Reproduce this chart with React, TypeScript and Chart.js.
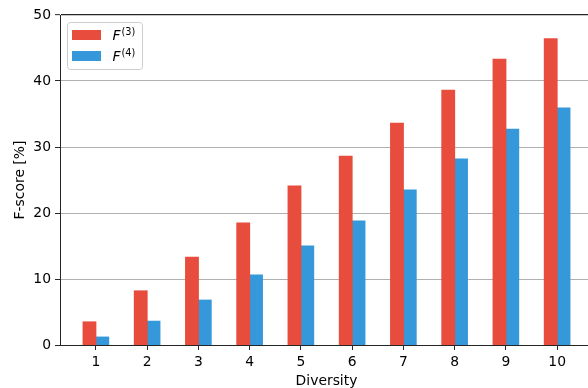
import React, { useEffect, useRef } from 'react';
import { Chart, registerables } from 'chart.js';

Chart.register(...registerables);

const diversity = [1, 2, 3, 4, 5, 6, 7, 8, 9, 10];
const f3 = [3.5, 8.2, 13.3, 18.5, 24.1, 28.6, 33.6, 38.6, 43.3, 46.4];
const f4 = [1.2, 3.6, 6.8, 10.6, 15.0, 18.8, 23.5, 28.2, 32.7, 35.9];
const yTicks = [0, 10, 20, 30, 40, 50];
const seriesBase = 'F';
const seriesSup = ['(3)', '(4)'];
const seriesColors = ['#e74c3c', '#3498db'];
const xTitle = 'Diversity';
const yTitle = 'F-score [%]';

const FAMILY = '"DejaVu Sans", sans-serif';
const FS = 13.9;
const SPINE = '#262626';

const legendPlugin = {
  id: 'mplLegend',
  afterDatasetsDraw(chart: any) {
    const { ctx, chartArea } = chart;
    const left = chartArea.left + 7.5;
    const top = chartArea.top + 7.5;
    const w = 75;
    const h = 47;
    ctx.save();
    ctx.beginPath();
    ctx.roundRect(left, top, w, h, 3);
    ctx.fillStyle = 'rgba(255,255,255,0.8)';
    ctx.fill();
    ctx.strokeStyle = '#cccccc';
    ctx.lineWidth = 1;
    ctx.stroke();
    chart.data.datasets.forEach((ds: any, i: number) => {
      const rowTop = top + 7.5 + i * 21;
      ctx.fillStyle = ds.backgroundColor;
      ctx.fillRect(left + 4.5, rowTop, 29, 10);
      const tx = left + 45;
      const base = rowTop + 9.5;
      ctx.fillStyle = '#000';
      ctx.textBaseline = 'alphabetic';
      ctx.textAlign = 'left';
      ctx.font = `italic ${FS}px ${FAMILY}`;
      ctx.fillText(seriesBase, tx, base);
      const fw = ctx.measureText(seriesBase).width;
      ctx.font = `${FS * 0.7}px ${FAMILY}`;
      ctx.fillText(seriesSup[i], tx + fw + 1, base - 5);
    });
    ctx.restore();
  },
};

export default function App() {
  const ref = useRef<HTMLCanvasElement | null>(null);

  useEffect(() => {
    document.body.style.margin = '0';
    document.documentElement.style.overflow = 'hidden';
    const canvas = ref.current;
    if (!canvas) return;
    const font = { family: FAMILY, size: FS };
    const chart = new Chart(canvas, {
      type: 'bar',
      data: {
        datasets: [
          {
            label: seriesBase + seriesSup[0],
            data: diversity.map((x, i) => ({ x, y: f3[i] })),
            backgroundColor: seriesColors[0],
            borderWidth: 0,
            inflateAmount: 0.5,
          },
          {
            label: seriesBase + seriesSup[1],
            data: diversity.map((x, i) => ({ x, y: f4[i] })),
            backgroundColor: seriesColors[1],
            borderWidth: 0,
            inflateAmount: 0.5,
          },
        ],
      },
      options: {
        responsive: false,
        animation: false,
        devicePixelRatio: 1,
        layout: { padding: { top: 15, left: 0, right: 0, bottom: 0 } },
        datasets: { bar: { categoryPercentage: 0.5, barPercentage: 1.0 } },
        plugins: { legend: { display: false }, tooltip: { enabled: false } },
        scales: {
          x: {
            type: 'linear',
            min: 0.3,
            max: 10.7,
            offset: false,
            afterBuildTicks: (s: any) => {
              s.ticks = diversity.map((v) => ({ value: v }));
            },
            afterFit: (s: any) => {
              s.height = 43;
            },
            grid: {
              display: true,
              drawOnChartArea: false,
              drawTicks: true,
              tickLength: 5,
              tickColor: SPINE,
              tickWidth: 1,
              offset: false,
            },
            border: { display: true, color: SPINE, width: 1 },
            ticks: {
              font,
              color: '#000',
              padding: 4,
              maxRotation: 0,
              autoSkip: false,
              callback: (v: any) => String(v),
            },
            title: {
              display: true,
              text: xTitle,
              font,
              color: '#000',
              padding: { top: 0, bottom: -2 },
            },
          },
          y: {
            type: 'linear',
            min: 0,
            max: 50,
            afterBuildTicks: (s: any) => {
              s.ticks = yTicks.map((v) => ({ value: v }));
            },
            afterFit: (s: any) => {
              s.width = 60;
            },
            grid: {
              color: (c: any) =>
                c.tick && c.tick.value === 50 ? SPINE : c.tick && c.tick.value === 0 ? 'rgba(0,0,0,0)' : '#b0b0b0',
              lineWidth: (c: any) => (c.tick && c.tick.value === 50 ? 1.3 : 1),
              drawTicks: true,
              tickLength: 5,
              tickColor: SPINE,
              tickWidth: 1,
            },
            border: { display: true, color: SPINE, width: 1 },
            ticks: {
              font,
              color: '#000',
              padding: 4,
              callback: (v: any) => String(v),
            },
            title: {
              display: true,
              text: yTitle,
              font,
              color: '#000',
              padding: { top: 12, bottom: 0 },
            },
          },
        },
      } as any,
      plugins: [legendPlugin],
    });
    return () => chart.destroy();
  }, []);

  return (
    <div style={{ width: 588, height: 388, overflow: 'hidden', position: 'relative' }}>
      <canvas ref={ref} width={593} height={388} style={{ display: 'block' }} />
    </div>
  );
}
